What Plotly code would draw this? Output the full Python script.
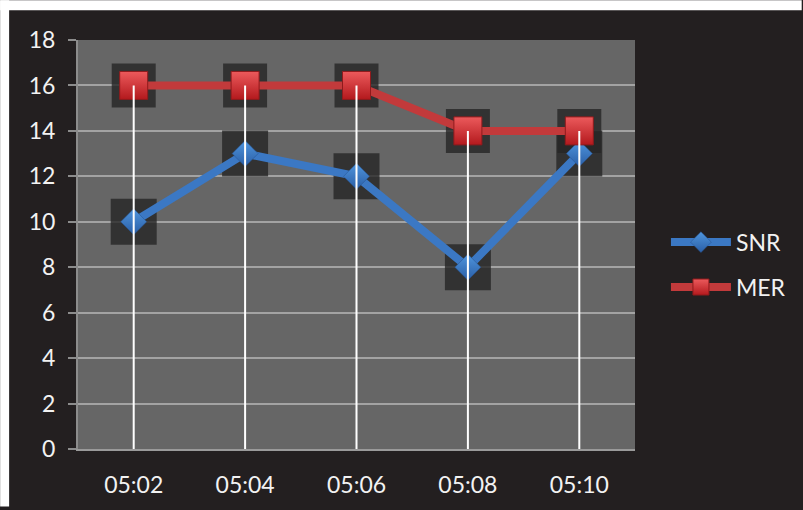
import plotly.graph_objects as go

# Measurements per time stamp
times = ["05:02", "05:04", "05:06", "05:08", "05:10"]
snr = [10, 13, 12, 8, 13]
mer = [16, 16, 16, 14, 14]
y_ticks = [0, 2, 4, 6, 8, 10, 12, 14, 16, 18]

W, H = 803, 510
M_L, M_R, M_T, M_B = 78, 167, 40, 58
PW, PH = W - M_L - M_R, H - M_T - M_B

BG = "#231f20"
PLOT_BG = "#666666"
GRID = "#a3a3a3"
TXT = "#f2f2f2"
BLUE = "#3b78c4"
RED = "#c23a3b"
FONT = "Lato"

fig = go.Figure()

# soft dark squares behind each marker
for vals, sz in ((snr, 46), (mer, 44)):
    fig.add_trace(go.Scatter(
        x=times, y=vals, mode="markers", yaxis="y", showlegend=False,
        hoverinfo="skip",
        marker=dict(symbol="square", size=sz, color="rgba(38,38,38,0.80)",
                    line=dict(width=0)),
    ))

# series lines with bevel-like gradient markers
fig.add_trace(go.Scatter(
    x=times, y=snr, name="SNR", mode="lines+markers", yaxis="y2",
    legendgroup="snr",
    line=dict(color=BLUE, width=8),
    marker=dict(symbol="diamond", size=20, color="#4f95dd",
                gradient=dict(type="vertical", color="#2a5ea6"),
                line=dict(width=0.5, color="#24518f")),
))
fig.add_trace(go.Scatter(
    x=times, y=mer, name="MER", mode="lines+markers", yaxis="y2",
    legendgroup="mer",
    line=dict(color=RED, width=8),
    marker=dict(symbol="square", size=28, color="#ec5a5c",
                gradient=dict(type="vertical", color="#b3191d"),
                line=dict(width=1, color="#8f1a1c")),
))

# white drop lines from the highest point of each category down to zero
dx, dy = [], []
for t, a, b in zip(times, snr, mer):
    dx += [t, t, None]
    dy += [0, max(a, b), None]
fig.add_trace(go.Scatter(
    x=dx, y=dy, mode="lines", yaxis="y2", showlegend=False, hoverinfo="skip",
    line=dict(color="#ffffff", width=2),
))

fig.update_layout(
    width=W, height=H,
    margin=dict(l=M_L, r=M_R, t=M_T, b=M_B),
    paper_bgcolor=BG, plot_bgcolor=PLOT_BG,
    font=dict(family=FONT, size=23, color=TXT),
    xaxis=dict(
        type="category", range=[-0.5, 4.5], showgrid=False, zeroline=False,
        showline=True, linecolor="#9a9a9a", linewidth=2, ticks="",
        ticklabelstandoff=14, tickfont=dict(size=23, color=TXT),
    ),
    yaxis=dict(
        range=[0, 18], tickvals=y_ticks, showgrid=True, gridcolor=GRID,
        gridwidth=1.5, zeroline=False, showline=True, linecolor="#8c8c8c",
        linewidth=2, ticks="outside", ticklen=8, tickcolor="#8c8c8c",
        tickwidth=2, ticklabelstandoff=8, tickfont=dict(size=23, color=TXT),
    ),
    yaxis2=dict(range=[0, 18], overlaying="y", visible=False),
    legend=dict(
        x=(667 - M_L) / PW, y=(H - M_B - 222) / PH, xanchor="left",
        yanchor="top", bgcolor="rgba(0,0,0,0)", itemwidth=60,
        tracegroupgap=12, font=dict(size=23, color=TXT),
    ),
    showlegend=True,
)

# thin white strips along the top and left edge
fig.add_shape(type="rect", xref="paper", yref="paper", layer="above",
              x0=-M_L / PW, x1=(9 - M_L) / PW, y0=-M_B / PH, y1=(H - M_B) / PH,
              fillcolor="#ffffff", line=dict(width=0))
fig.add_shape(type="rect", xref="paper", yref="paper", layer="above",
              x0=-M_L / PW, x1=(W - M_L) / PW, y0=(H - M_B - 10) / PH,
              y1=(H - M_B) / PH, fillcolor="#ffffff", line=dict(width=0))

fig.write_html("out.html")
